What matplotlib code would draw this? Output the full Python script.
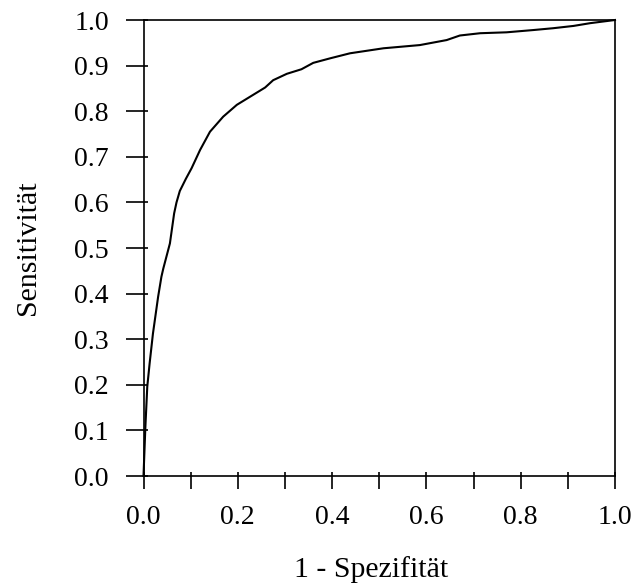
import matplotlib
matplotlib.use("Agg")
import matplotlib.pyplot as plt

# ROC curve: false positive rate (1 - specificity) vs. sensitivity
fpr = [0.0, 0.004, 0.008, 0.013, 0.020, 0.031, 0.038, 0.042, 0.056, 0.065,
       0.070, 0.077, 0.090, 0.102, 0.120, 0.141, 0.169, 0.198, 0.247, 0.258,
       0.275, 0.304, 0.335, 0.360, 0.396, 0.438, 0.509, 0.586, 0.643, 0.671,
       0.714, 0.770, 0.827, 0.869, 0.912, 0.947, 1.0]
tpr = [0.0, 0.108, 0.196, 0.247, 0.312, 0.393, 0.437, 0.455, 0.510, 0.576,
       0.600, 0.625, 0.652, 0.675, 0.715, 0.755, 0.788, 0.814, 0.845, 0.852,
       0.868, 0.882, 0.892, 0.906, 0.916, 0.927, 0.938, 0.945, 0.956, 0.966,
       0.971, 0.973, 0.978, 0.982, 0.987, 0.993, 1.0]

x_major = [0.0, 0.2, 0.4, 0.6, 0.8, 1.0]
x_all = [0.0, 0.1, 0.2, 0.3, 0.4, 0.5, 0.6, 0.7, 0.8, 0.9, 1.0]
y_ticks = [0.0, 0.1, 0.2, 0.3, 0.4, 0.5, 0.6, 0.7, 0.8, 0.9, 1.0]

x_label = "1 - Spezifität"
y_label = "Sensitivität"

plt.rcParams["font.family"] = ["Liberation Serif", "DejaVu Serif"]

fig = plt.figure(figsize=(6.34, 5.86), dpi=100)
ax = fig.add_axes([143.5 / 634, (586 - 476) / 586, (615 - 143.5) / 634, (476 - 20) / 586])

ax.plot(fpr, tpr, color="black", linewidth=1.5, clip_on=False, zorder=3)

ax.set_xlim(0, 1)
ax.set_ylim(0, 1)

# major ticks point outward; short minor ticks at the same spots poke inward
ax.xaxis.remove_overlapping_locs = False
ax.yaxis.remove_overlapping_locs = False
ax.set_xticks(x_all)
ax.set_xticklabels([f"{v:.1f}" if v in x_major else "" for v in x_all])
ax.set_xticks(x_all, minor=True)
ax.set_yticks(y_ticks)
ax.set_yticklabels([f"{v:.1f}" for v in y_ticks])
ax.set_yticks(y_ticks, minor=True)

for s in ax.spines.values():
    s.set_linewidth(1.2)
    s.set_color("black")

ax.tick_params(axis="x", which="major", direction="out", length=9, width=1.2,
               labelsize=20, pad=12, colors="black")
ax.tick_params(axis="y", which="major", direction="out", length=13, width=1.2,
               labelsize=20, pad=12, colors="black")
ax.tick_params(axis="both", which="minor", direction="in", length=3, width=1.2,
               colors="black")

ax.set_xlabel(x_label, fontsize=21.5)
ax.set_ylabel(y_label, fontsize=21.5)
ax.xaxis.set_label_coords((371 - 143.5) / 471.5, -(556 - 476) / 456)
ax.yaxis.set_label_coords(-(143.5 - 41) / 471.5, 0.5)

fig.savefig("out.png", dpi=100, facecolor="white")
